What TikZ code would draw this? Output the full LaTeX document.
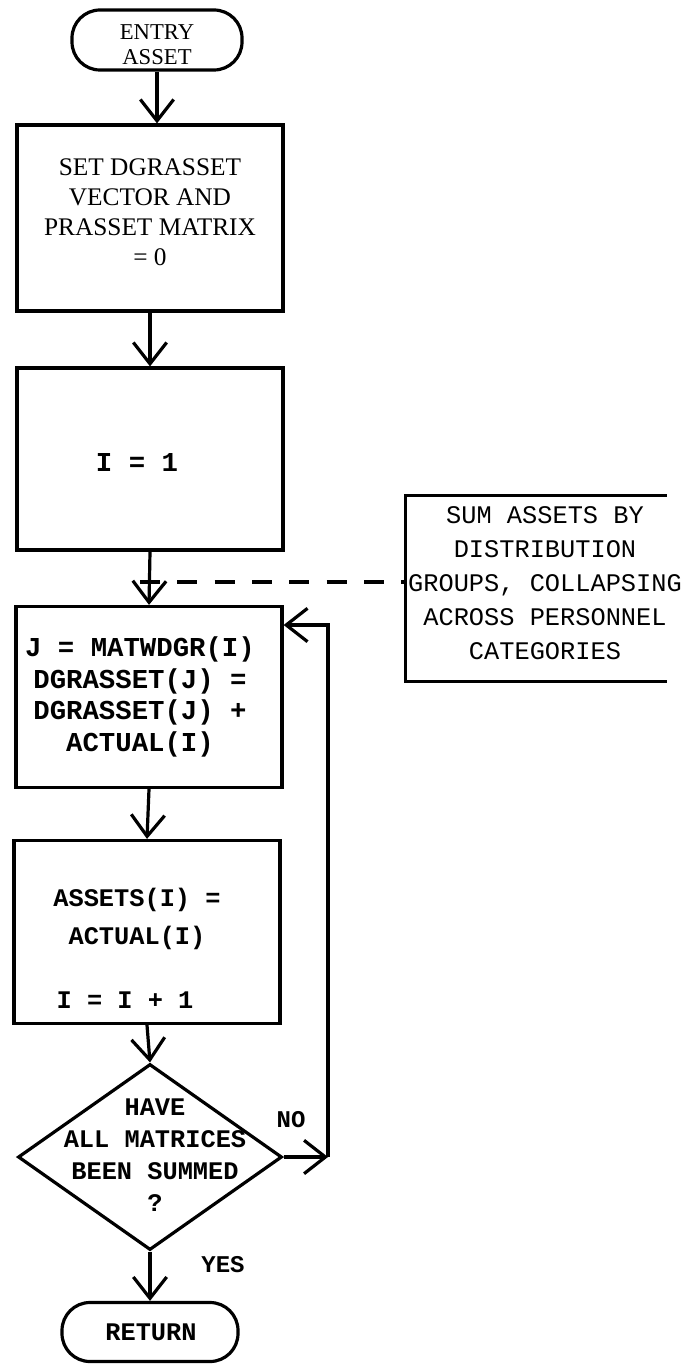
\documentclass[tikz,border=0pt]{standalone}
\usepackage{fontspec}
\setmainfont{Liberation Serif}
\setmonofont{Liberation Mono}
\usetikzlibrary{shapes.geometric,arrows.meta,calc}
\begin{document}
\begin{tikzpicture}[x=0.75pt,y=-0.75pt,
  line width=2.4pt,
  arr/.style={-{Straight Barb[length=16pt,width=25pt,line width=2.4pt]}},
  procbox/.style={draw, rectangle, minimum width=199.5pt, inner sep=0pt},
  term/.style={draw, rectangle, rounded corners=21pt, inner sep=0pt},
  txt/.style={align=center, inner sep=0pt},
  serifA/.style={font=\fontsize{19pt}{22.5pt}\selectfont},
  monoB/.style={font=\fontsize{19pt}{24pt}\selectfont\ttfamily\bfseries},
]
\useasboundingbox (0,0) rectangle (691,1366);

% entry terminal
\node[term, minimum width=127.5pt, minimum height=45pt] (entry) at (157,40) {};
\node[txt, font=\fontsize{17pt}{19pt}\selectfont] (tentry) at (157,45) {ENTRY\\ASSET};

% box 1
\node[procbox, minimum height=139.5pt] (b1) at (150,218) {};
\node[txt, serifA] (t1) at (150,212) {SET DGRASSET\\VECTOR AND\\PRASSET MATRIX\\= 0};

% box 2
\node[procbox, minimum height=136.5pt] (b2) at (150,459) {};
\node[txt, font=\fontsize{20.5pt}{24pt}\selectfont\ttfamily\bfseries] (t2) at (137,462) {I = 1};

% box 3
\node[procbox, minimum height=135.75pt] (b3) at (149,697) {};
\node[txt, font=\fontsize{20.5pt}{23.8pt}\selectfont\ttfamily\bfseries] (t3) at (140,697)
  {J = MATWDGR(I)\\DGRASSET(J) =\\DGRASSET(J) +\\ACTUAL(I)};

% box 4
\node[procbox, minimum height=137.25pt] (b4) at (147,932) {};
\node[txt, font=\fontsize{19pt}{28.5pt}\selectfont\ttfamily\bfseries] (t4) at (137,919) {ASSETS(I) =\\ACTUAL(I)};
\node[txt, monoB, anchor=west] (t4b) at (55,1000) {I = I + 1};

% decision
\node[diamond, draw, minimum width=198pt, minimum height=139.5pt, inner sep=0pt] (dec) at (150,1157) {};
\node[txt, monoB] (tdec) at (155,1155) {HAVE\\ALL MATRICES\\BEEN SUMMED\\?};

% return terminal
\node[term, minimum width=132pt, minimum height=44.25pt] (ret) at (150,1332) {};
\node[txt, monoB] (tret) at (151,1332) {RETURN};

% annotation
\node[minimum width=193.5pt, minimum height=137.25pt, inner sep=0pt] (ann) at (536,588.5) {};
\draw (ann.north east) -- (ann.north west) -- (ann.south west) -- (ann.south east);
\node[txt, font=\fontsize{19pt}{25.5pt}\selectfont\ttfamily] (tann) at (545,583)
  {SUM ASSETS BY\\DISTRIBUTION\\GROUPS, COLLAPSING\\ACROSS PERSONNEL\\CATEGORIES};

% connectors
\draw[arr] (entry.south) -- (entry.south |- b1.north);
\draw[arr] (b1.south) -- (b2.north);
\draw[arr] (b2.south) -- (b3.north);
\draw[arr] (b3.south) -- (b4.north);
\draw[arr] (b4.south) -- (dec.north);
\draw[arr] (dec.south) -- (ret.north);

\coordinate (dj) at (140,582);
\draw[dash pattern=on 15pt off 13pt] (dj) -- (dj -| ann.west);

\coordinate (cn) at (328,1157);
\coordinate (lp) at (0,625);
\draw[arr] (dec.east) -- (cn);
\draw[arr] (cn) |- (b3.east |- lp);

\node[txt, font=\fontsize{18pt}{20pt}\selectfont\ttfamily\bfseries] (lno) at (291,1120) {NO};
\node[txt, font=\fontsize{18pt}{20pt}\selectfont\ttfamily\bfseries] (lyes) at (223,1265) {YES};
\end{tikzpicture}
\end{document}
